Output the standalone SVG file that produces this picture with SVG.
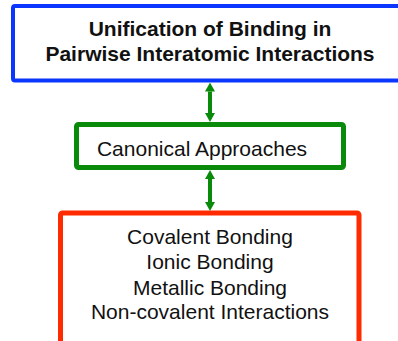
<svg xmlns="http://www.w3.org/2000/svg" width="398" height="341" viewBox="0 0 398 341">
  <style>
    .box { fill: #ffffff; }
    .t { font-family: "Liberation Sans", Arial, Helvetica, sans-serif; font-size: 21px; fill: #111111; text-anchor: middle; }
    .b { font-weight: bold; }
    .conn { stroke: #0a8a0a; stroke-width: 4; fill: none; }
  </style>
  <defs>
    <marker id="ah" viewBox="0 0 9 10" refX="0" refY="5" markerWidth="9" markerHeight="10" markerUnits="userSpaceOnUse" orient="auto-start-reverse">
      <path d="M0,0 L9,5 L0,10 Z" fill="#0a8a0a"/>
    </marker>
  </defs>
  <rect width="398" height="341" fill="#ffffff"/>
  <g id="top">
    <rect class="box" x="13" y="6" width="392" height="74.5" rx="2" stroke="#0a36ff" stroke-width="4"/>
    <text class="t b" x="210" y="36">Unification of Binding in</text>
    <text class="t b" x="210" y="61">Pairwise Interatomic Interactions</text>
  </g>
  <g id="canonical">
    <rect class="box" x="76.5" y="124.5" width="267" height="43" rx="2" stroke="#0a8a0a" stroke-width="5"/>
    <text class="t" x="202" y="155.5">Canonical Approaches</text>
  </g>
  <g id="bonding">
    <rect class="box" x="60.5" y="213" width="298.5" height="140" rx="2" stroke="#ff2a00" stroke-width="5"/>
    <text class="t" x="210" y="244">Covalent Bonding</text>
    <text class="t" x="210" y="268.5">Ionic Bonding</text>
    <text class="t" x="210" y="294.5">Metallic Bonding</text>
    <text class="t" x="210" y="318.5">Non-covalent Interactions</text>
  </g>
  <g id="connectors">
    <line class="conn" x1="210" y1="91.5" x2="210" y2="113" marker-start="url(#ah)" marker-end="url(#ah)"/>
    <line class="conn" x1="210" y1="179" x2="210" y2="202" marker-start="url(#ah)" marker-end="url(#ah)"/>
  </g>
</svg>
